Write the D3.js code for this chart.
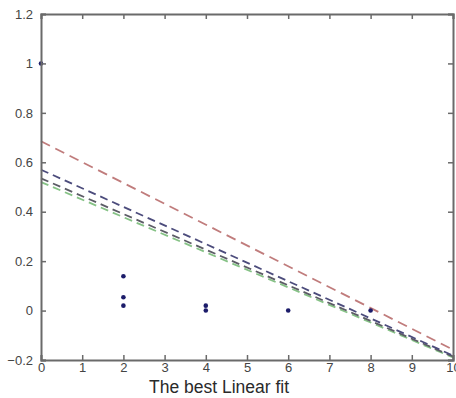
<!DOCTYPE html>
<html><head><meta charset="utf-8">
<script src="https://cdn.jsdelivr.net/npm/d3@7"></script>
<style>body{margin:0;background:#fff}svg{display:block}</style>
</head><body>
<svg id="c" width="456" height="398"></svg>
<script>
const xTicks = [0,1,2,3,4,5,6,7,8,9,10];
const yTicks = [-0.2,0,0.2,0.4,0.6,0.8,1,1.2];
const pointsX = [0,2,2,2,4,4,6,8];
const pointsY = [1.0,0.139,0.054,0.02,0.02,0,0,0];
const lineNames = ["red","blue","gray","green"];
const lineStart = [0.685,0.57,0.535,0.52];
const lineEnd = [-0.158,-0.182,-0.186,-0.19];
const lineColors = ["#c07c7c","#4c4c7c","#5c5c66","#86c286"];
const xLabel = "The best Linear fit";

const svg = d3.select("#c");
const L=41,R=453,T=14,B=360;
const x = d3.scaleLinear().domain([0,10]).range([L,R]);
const y = d3.scaleLinear().domain([-0.2,1.2]).range([B,T]);
const axisCol="#6a6a6a";

// lines
const order=[3,2,1,0];
order.forEach(i=>{
  svg.append("line")
    .attr("x1",x(0)).attr("y1",y(lineStart[i]))
    .attr("x2",x(10)).attr("y2",y(lineEnd[i]))
    .attr("stroke",lineColors[i]).attr("stroke-width",1.8)
    .attr("stroke-dasharray", i===0 ? "10,6" : "8,5");
});

// points
svg.selectAll("circle.p").data(pointsX.map((d,i)=>[d,pointsY[i]])).enter()
  .append("circle").attr("cx",d=>x(d[0])).attr("cy",d=>y(d[1]))
  .attr("r",2.3).attr("fill","#1c1c6a");

// axes
const fmt=d=>d3.format("")(+d.toFixed(1));
const gx=svg.append("g").attr("transform",`translate(0,${B})`)
  .call(d3.axisBottom(x).tickValues(xTicks).tickSize(-5).tickPadding(9).tickFormat(fmt));
const gy=svg.append("g").attr("transform",`translate(${L},0)`)
  .call(d3.axisLeft(y).tickValues(yTicks).tickSize(-5).tickPadding(8).tickFormat(fmt));
const gt=svg.append("g").attr("transform",`translate(0,${T})`)
  .call(d3.axisTop(x).tickValues(xTicks).tickSize(-5).tickFormat(""));
const gr=svg.append("g").attr("transform",`translate(${R},0)`)
  .call(d3.axisRight(y).tickValues(yTicks).tickSize(-5).tickFormat(""));
[gx,gy,gt,gr].forEach(g=>{
  g.select(".domain").attr("stroke",axisCol).attr("stroke-width",2);
  g.selectAll(".tick line").attr("stroke",axisCol).attr("stroke-width",1.5);
  g.selectAll("text").attr("fill","#444").style("font-family","Liberation Sans, Arial, sans-serif").style("font-size","13px");
});
gx.selectAll(".tick text").attr("dy","0.2em");

svg.append("text").attr("x",219).attr("y",393).attr("text-anchor","middle")
  .style("font-family","Liberation Sans, Arial, sans-serif").style("font-size","17.5px")
  .attr("fill","#2a2a2a").text(xLabel);
</script>
</body></html>
